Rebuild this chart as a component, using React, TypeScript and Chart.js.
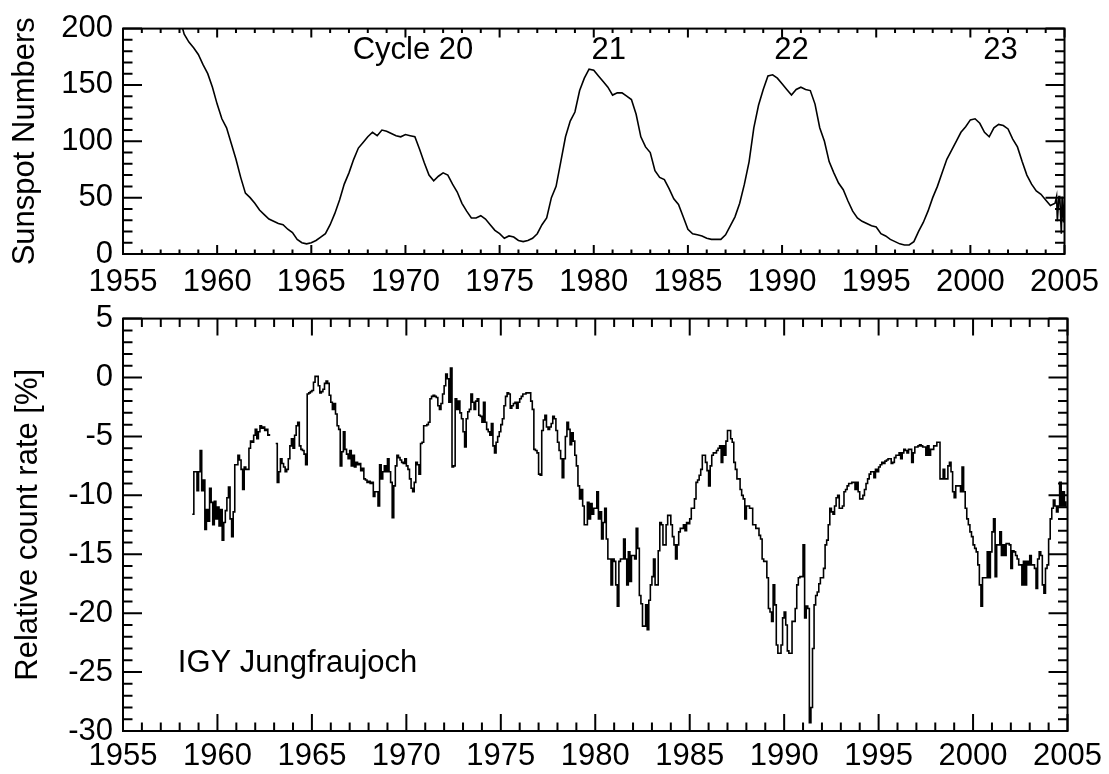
import React, { useEffect, useRef } from 'react';
import { Chart, registerables } from 'chart.js';

Chart.register(...registerables);

// ---------- axis ticks / labels ----------
const yearTicks = [1955, 1960, 1965, 1970, 1975, 1980, 1985, 1990, 1995, 2000, 2005];
const sunspotTicks = [0, 50, 100, 150, 200];
const countTicks = [-30, -25, -20, -15, -10, -5, 0, 5];

// ---------- annotations ----------
const cycleLabels = ['Cycle 20', '21', '22', '23'];
const cycleYears = [1970.4, 1980.8, 1990.5, 2001.6];
const cycleLabelValue = 181;
const stationLabel = 'IGY Jungfraujoch';
const stationYear = 1957.9;
const stationValue = -24.3;

// ---------- smoothed sunspot numbers (quarterly, from 1958.0) ----------
const sunspotStart = 1958;
const sunspotStep = 0.25;
const sunspotValues = [
  210, 195, 188, 183, // 1958
  177, 168, 160, 148, // 1959
  133, 120, 112, 98, // 1960
  84, 68, 54, 50, // 1961
  45, 39, 35, 31, // 1962
  29, 27, 26, 22, // 1963
  19, 13, 10, 9, // 1964
  10, 12, 15, 18, // 1965
  26, 36, 48, 62, // 1966
  72, 84, 94, 99, // 1967
  104, 108, 105, 110, // 1968
  109, 107, 105, 104, // 1969
  106, 105, 104, 93, // 1970
  81, 70, 65, 69, // 1971
  72, 70, 62, 55, // 1972
  45, 38, 32, 32, // 1973
  34, 31, 26, 21, // 1974
  18, 14, 16, 15, // 1975
  12, 11, 12, 14, // 1976
  18, 26, 32, 50, // 1977
  60, 82, 104, 118, // 1978
  126, 145, 156, 164, // 1979
  163, 158, 153, 148, // 1980
  141, 143, 143, 140, // 1981
  137, 124, 104, 95, // 1982
  90, 74, 68, 66, // 1983
  58, 49, 44, 33, // 1984
  22, 18, 17, 16, // 1985
  14, 13, 13, 13, // 1986
  17, 25, 33, 45, // 1987
  62, 82, 112, 132, // 1988
  146, 158, 159, 156, // 1989
  151, 146, 141, 146, // 1990
  148, 146, 145, 133, // 1991
  112, 100, 82, 72, // 1992
  63, 57, 47, 38, // 1993
  32, 29, 27, 25, // 1994
  24, 18, 16, 13, // 1995
  11, 9, 8, 8, // 1996
  11, 20, 28, 38, // 1997
  50, 60, 72, 84, // 1998
  92, 100, 108, 113, // 1999
  119, 120, 116, 108, // 2000
  104, 112, 115, 114, // 2001
  111, 102, 95, 82, // 2002
  70, 62, 56, 53, // 2003
  48, 43, // 2004 (first half)
];
// jagged provisional values at the end of the record
const sunspotTailYears = [2004.5, 2004.58, 2004.62, 2004.7, 2004.75, 2004.83, 2004.87, 2004.95, 2005.0];
const sunspotTailValues = [45, 51, 29, 51, 51, 18, 51, 28, 51];

// ---------- IGY Jungfraujoch relative count rate [%] (monthly, from Jan 1958) ----------
const countStart = 1958;
const countStepMonths = 12;
const countRates = [
  null, null, null, null, null, null, null, null, -11.6, -8.0, -8.0, -9.6, // 1958
  -8.0, -6.2, -9.6, -8.7, -12.9, -11.2, -12.2, -9.4, -10.6, -12.5, -10.5, -12.0, // 1959
  -11.0, -12.6, -11.2, -13.8, -12.3, -11.3, -10.2, -9.3, -12.0, -13.5, -11.4, -7.4, // 1960
  -7.4, -6.6, -7.0, -7.8, -9.5, -7.6, -7.8, -7.8, -6.0, -5.4, -5.5, -4.9, // 1961
  -4.4, -5.2, -4.6, -4.1, -4.3, -4.2, -4.5, -4.4, -4.9, -4.8, null, null, // 1962
  null, -5.6, -8.9, -8.0, -6.9, -7.3, -7.6, -8.0, -7.8, -6.9, -5.8, -5.2, // 1963
  -6.0, -4.9, -4.1, -3.8, -5.8, -6.1, -6.2, -6.5, -7.4, -1.4, -1.3, -1.2, // 1964
  -1.1, -0.4, 0.1, 0.1, -0.7, -1.3, -1.2, -1.0, -0.5, -0.3, -0.5, -1.5, // 1965
  -2.1, -2.7, -2.2, -3.1, -4.1, -4.4, -7.5, -6.3, -4.6, -6.1, -6.5, -6.9, // 1966
  -6.2, -7.5, -6.6, -7.6, -7.2, -7.4, -7.3, -7.9, -7.7, -8.6, -8.7, -8.9, // 1967
  -8.8, -9.0, -8.9, -10.1, -9.7, -9.7, -10.9, -7.4, -8.6, -8.0, -7.5, -8.0, // 1968
  -6.9, -8.0, -8.9, -11.9, -9.2, -7.5, -6.6, -6.8, -7.0, -7.2, -7.3, -6.9, // 1969
  -7.5, -7.8, -8.6, -9.4, -9.7, -8.9, -7.2, -7.4, -8.2, -5.6, -5.5, -4.1, // 1970
  -4.1, -4.0, -3.8, -1.8, -1.6, -1.5, -1.6, -1.7, -2.4, -2.7, -2.2, -1.4, // 1971
  -0.7, 0.3, -0.1, -2.1, 0.8, -7.6, -7.5, -1.8, -2.7, -2.0, -3.0, -3.5, // 1972
  -4.6, -5.9, -3.5, -2.9, -2.7, -1.4, -2.1, -2.7, -2.0, -1.8, -3.2, -3.3, // 1973
  -3.8, -2.1, -3.8, -4.4, -4.6, -4.9, -3.9, -5.8, -6.4, -5.5, -5.0, -4.6, // 1974
  -4.0, -3.5, -2.4, -1.6, -1.3, -1.4, -2.6, -2.4, -2.2, -2.1, -2.6, -2.1, // 1975
  -1.8, -1.6, -1.4, -1.4, -1.3, -1.3, -1.3, -2.0, -2.7, -6.1, -6.2, -6.4, // 1976
  -8.2, -8.3, -4.5, -3.6, -3.2, -4.2, -4.4, -4.2, -3.9, -3.3, -3.5, -4.5, // 1977
  -5.5, -6.2, -6.9, -8.5, -6.9, -5.0, -3.8, -4.4, -5.7, -4.7, -5.4, -6.6, // 1978
  -7.5, -9.2, -10.3, -9.5, -10.9, -12.5, -12.5, -10.6, -12.0, -10.7, -11.6, -11.1, // 1979
  -11.1, -9.7, -12.0, -11.4, -13.7, -12.3, -11.1, -13.7, -15.4, -15.4, -17.6, -15.4, // 1980
  -15.6, -17.6, -19.4, -15.6, -15.4, -15.4, -13.7, -15.4, -17.6, -14.8, -17.3, -15.1, // 1981
  -15.1, -15.4, -12.8, -14.5, -18.5, -19.2, -21.1, -21.1, -19.3, -21.4, -18.9, -17.6, // 1982
  -16.9, -15.4, -17.6, -17.6, -14.7, -12.3, -12.5, -14.2, -14.2, -12.5, -11.7, -11.7, // 1983
  -12.5, -13.5, -14.2, -15.4, -14.2, -13.1, -12.8, -12.8, -12.5, -13.0, -12.3, -12.4, // 1984
  -12.0, -11.1, -11.1, -10.3, -8.9, -8.7, -8.3, -7.8, -6.6, -6.6, -7.2, -7.9, // 1985
  -9.2, -7.5, -6.6, -6.4, -6.4, -6.2, -6.0, -5.8, -7.2, -5.8, -6.6, -5.4, // 1986
  -4.5, -4.5, -5.2, -5.5, -7.2, -7.8, -8.6, -8.6, -9.5, -10.0, -10.3, -12.0, // 1987
  -10.9, -10.9, -11.1, -11.1, -12.5, -12.5, -12.8, -12.8, -13.4, -13.7, -15.4, -15.6, // 1988
  -15.6, -17.0, -19.6, -19.9, -20.7, -17.6, -19.3, -22.7, -23.4, -23.4, -22.7, -20.4, // 1989
  -19.9, -21.0, -23.2, -23.4, -23.4, -20.7, -20.7, -19.6, -17.6, -17.0, -16.9, -16.9, // 1990
  -14.2, -20.4, -19.4, -19.6, -29.3, -28.0, -23.0, -19.3, -18.5, -18.2, -17.5, -17.0, // 1991
  -17.0, -16.2, -14.2, -13.8, -12.5, -11.1, -11.4, -11.6, -10.9, -10.2, -10.0, -11.1, // 1992
  -11.1, -10.9, -9.7, -9.5, -9.2, -9.0, -9.0, -8.9, -8.9, -9.5, -8.9, -9.7, // 1993
  -10.3, -10.3, -10.0, -9.5, -9.0, -8.6, -8.2, -8.0, -8.0, -8.5, -7.8, -8.0, // 1994
  -7.6, -7.4, -7.2, -7.3, -7.1, -7.0, -6.9, -6.9, -7.3, -7.2, -6.8, -6.6, // 1995
  -6.6, -6.4, -6.9, -6.4, -6.1, -6.2, -6.4, -6.1, -6.1, -7.2, -6.4, -5.9, // 1996
  -5.9, -5.8, -5.7, -5.8, -5.9, -5.9, -6.6, -5.8, -6.6, -6.1, -6.1, -5.8, // 1997
  -5.8, -5.5, -5.5, -8.6, -8.6, -7.8, -8.6, -8.6, -7.5, -7.2, -8.0, -9.7, // 1998
  -10.2, -9.2, -9.2, -9.2, -9.7, -7.6, -9.7, -11.1, -12.0, -12.5, -13.1, -13.5, // 1999
  -14.2, -14.5, -14.8, -15.9, -17.6, -19.4, -17.0, -17.0, -17.0, -14.8, -17.0, -14.8, // 2000
  -13.1, -12.0, -16.9, -14.2, -14.2, -13.1, -15.1, -14.2, -15.1, -14.1, -14.1, -14.2, // 2001
  -16.2, -14.7, -14.8, -15.1, -15.4, -15.9, -15.9, -17.6, -15.6, -17.6, -15.6, -15.9, // 2002
  -15.1, -15.9, -15.9, -16.2, -17.9, -15.4, -14.8, -15.1, -17.6, -18.3, -16.2, -15.9, // 2003
  -13.7, -12.0, -11.1, -10.4, -10.9, -11.4, -10.9, -8.9, -10.9, -9.7, -10.9, -10.5, // 2004
];

// ---------- build point lists ----------
const sunspotPoints = [
  ...sunspotValues.map((v, i) => ({ x: sunspotStart + i * sunspotStep, y: v })),
  ...sunspotTailYears.map((yr, i) => ({ x: yr, y: sunspotTailValues[i] })),
];
const countPoints = countRates.map((v, i) => ({ x: countStart + i / countStepMonths, y: v }));

const FONT_FAMILY = '"Liberation Sans", Arial, Helvetica, sans-serif';
const tickFont = { family: FONT_FAMILY, size: 31 };
const titleFont = { family: FONT_FAMILY, size: 31 };

type FrameCfg = {
  xMajor: number;
  xMinor: number;
  yMajor: number;
  yMinor: number;
  yMinorStep: number;
  yMajorStep: number;
  texts: { text: string; x: number; y: number; align: CanvasTextAlign }[];
};

function framePlugin(cfg: FrameCfg) {
  return {
    id: 'frameTicks',
    afterDraw(chart: any) {
      const { ctx, chartArea: a, scales } = chart;
      const xs = scales.x;
      const ys = scales.y;
      ctx.save();
      ctx.strokeStyle = '#000';
      ctx.lineWidth = 2;
      ctx.strokeRect(a.left, a.top, a.right - a.left, a.bottom - a.top);
      ctx.beginPath();
      for (let yr = Math.round(xs.min); yr <= xs.max; yr++) {
        const px = xs.getPixelForValue(yr);
        const len = yr % 5 === 0 ? cfg.xMajor : cfg.xMinor;
        ctx.moveTo(px, a.bottom);
        ctx.lineTo(px, a.bottom - len);
        ctx.moveTo(px, a.top);
        ctx.lineTo(px, a.top + len);
      }
      for (let v = ys.min; v <= ys.max + 1e-9; v += cfg.yMinorStep) {
        const py = ys.getPixelForValue(v);
        const len = Math.abs(v % cfg.yMajorStep) < 1e-9 ? cfg.yMajor : cfg.yMinor;
        ctx.moveTo(a.left, py);
        ctx.lineTo(a.left + len, py);
        ctx.moveTo(a.right, py);
        ctx.lineTo(a.right - len, py);
      }
      ctx.stroke();
      ctx.fillStyle = '#000';
      ctx.font = `31px ${FONT_FAMILY}`;
      ctx.textBaseline = 'middle';
      cfg.texts.forEach((t) => {
        ctx.textAlign = t.align;
        ctx.fillText(t.text, xs.getPixelForValue(t.x), ys.getPixelForValue(t.y));
      });
      ctx.restore();
    },
  };
}

function makeOptions(opts: {
  padTop: number;
  xHeight: number;
  xPad: number;
  yMin: number;
  yMax: number;
  yTicks: number[];
  title: string;
  titlePad: number;
}) {
  return {
    animation: false,
    responsive: false,
    events: [],
    layout: { padding: { left: 0, top: opts.padTop, right: 39, bottom: 0 } },
    plugins: { legend: { display: false }, tooltip: { enabled: false } },
    elements: { point: { radius: 0 } },
    scales: {
      x: {
        type: 'linear',
        min: 1955,
        max: 2005,
        grid: { display: false, drawTicks: false, tickLength: 0 },
        border: { display: false },
        afterBuildTicks: (s: any) => {
          s.ticks = yearTicks.map((v) => ({ value: v }));
        },
        afterFit: (s: any) => {
          s.height = opts.xHeight;
        },
        ticks: {
          autoSkip: false,
          maxRotation: 0,
          minRotation: 0,
          padding: opts.xPad,
          color: '#000',
          font: tickFont,
          callback: (v: any) => String(v),
        },
      },
      y: {
        type: 'linear',
        min: opts.yMin,
        max: opts.yMax,
        grid: { display: false, drawTicks: false, tickLength: 0 },
        border: { display: false },
        afterBuildTicks: (s: any) => {
          s.ticks = opts.yTicks.map((v) => ({ value: v }));
        },
        afterFit: (s: any) => {
          s.width = 123;
        },
        title: {
          display: true,
          text: opts.title,
          color: '#000',
          font: titleFont,
          padding: { top: opts.titlePad, bottom: 0 },
        },
        ticks: {
          autoSkip: false,
          padding: 10,
          color: '#000',
          font: tickFont,
          callback: (v: any) => String(v),
        },
      },
    },
  };
}

export default function App() {
  const topRef = useRef<HTMLCanvasElement | null>(null);
  const botRef = useRef<HTMLCanvasElement | null>(null);

  useEffect(() => {
    const topChart = new Chart(topRef.current as HTMLCanvasElement, {
      type: 'line',
      data: {
        datasets: [
          {
            data: sunspotPoints,
            borderColor: '#000',
            borderWidth: 1.6,
            stepped: false,
            tension: 0,
            fill: false,
            pointRadius: 0,
          },
        ],
      },
      options: makeOptions({
        padTop: 22,
        xHeight: 46,
        xPad: 10,
        yMin: 0,
        yMax: 200,
        yTicks: sunspotTicks,
        title: 'Sunspot Numbers',
        titlePad: 7,
      }) as any,
      plugins: [
        framePlugin({
          xMajor: 9,
          xMinor: 4.5,
          yMajor: 19,
          yMinor: 9.5,
          yMinorStep: 10,
          yMajorStep: 50,
          texts: cycleLabels.map((t, i) => ({ text: t, x: cycleYears[i], y: cycleLabelValue, align: 'center' as CanvasTextAlign })),
        }),
      ],
    });

    const botChart = new Chart(botRef.current as HTMLCanvasElement, {
      type: 'line',
      data: {
        datasets: [
          {
            data: countPoints,
            borderColor: '#000',
            borderWidth: 1.6,
            stepped: true,
            spanGaps: false,
            fill: false,
            pointRadius: 0,
          },
        ],
      },
      options: makeOptions({
        padTop: 26,
        xHeight: 43,
        xPad: 7,
        yMin: -30,
        yMax: 5,
        yTicks: countTicks,
        title: 'Relative count rate [%]',
        titlePad: 10,
      }) as any,
      plugins: [
        framePlugin({
          xMajor: 17,
          xMinor: 8.5,
          yMajor: 19,
          yMinor: 9.5,
          yMinorStep: 1,
          yMajorStep: 5,
          texts: [{ text: stationLabel, x: stationYear, y: stationValue, align: 'left' }],
        }),
      ],
    });

    return () => {
      topChart.destroy();
      botChart.destroy();
    };
  }, []);

  return (
    <div style={{ position: 'absolute', left: 0, top: 0, width: 1109, height: 774, background: '#fff', overflow: 'hidden' }}>
      <canvas ref={topRef} width={1109} height={300} style={{ position: 'absolute', left: 0, top: 0 }} />
      <canvas ref={botRef} width={1109} height={484} style={{ position: 'absolute', left: 0, top: 290 }} />
    </div>
  );
}
